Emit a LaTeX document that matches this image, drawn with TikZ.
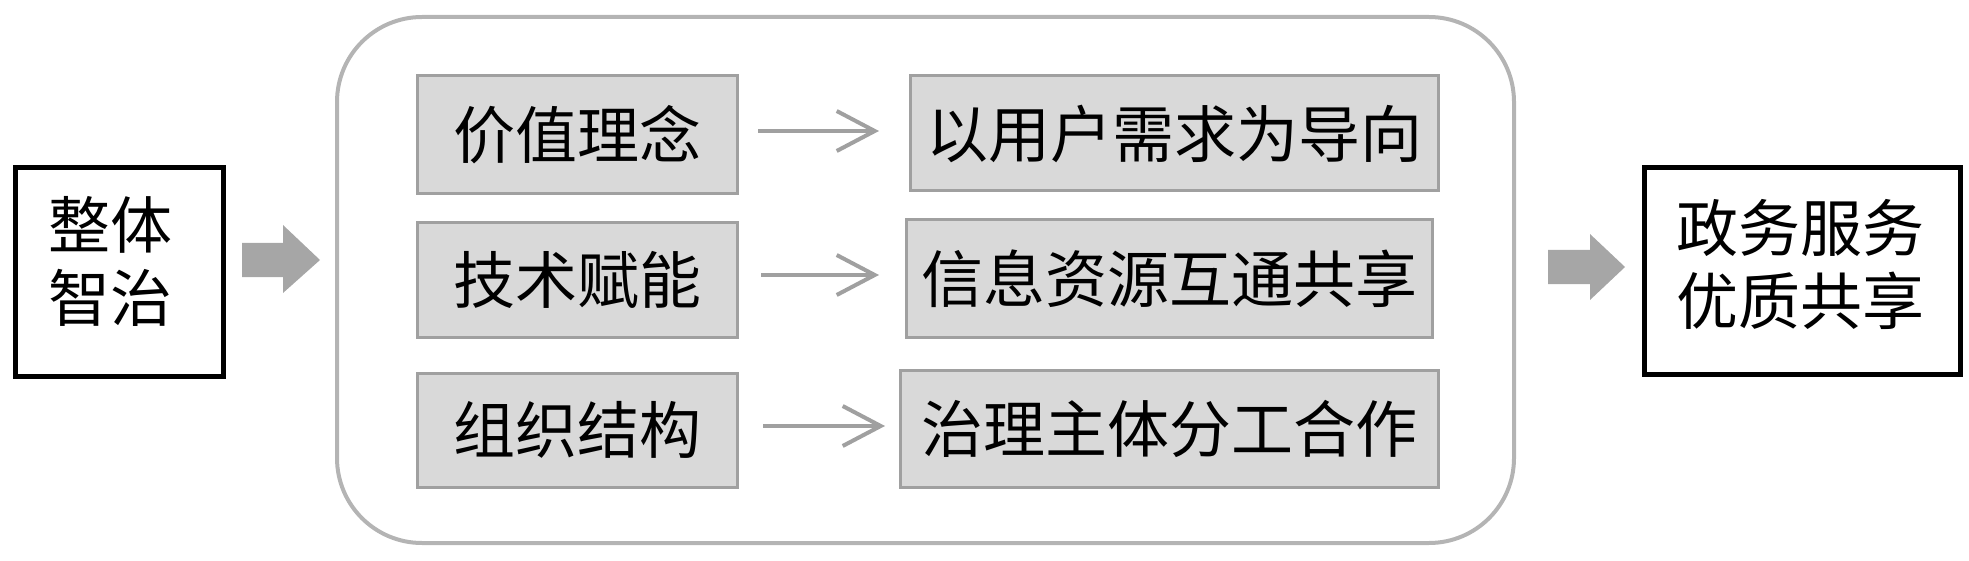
\documentclass[tikz,border=0pt]{standalone}
\usepackage{fontspec}
\setmainfont{Noto Sans CJK SC}
\usetikzlibrary{fit,arrows.meta}
\definecolor{boxfill}{RGB}{217,217,217}
\definecolor{boxline}{RGB}{160,160,160}
\definecolor{contline}{RGB}{180,180,180}
\definecolor{arrowgray}{RGB}{160,160,160}
\definecolor{bigarrow}{RGB}{166,166,166}
\tikzset{
  graybox/.style={draw=boxline, fill=boxfill, line width=1.5pt, inner sep=0pt},
  boxtext/.style={font=\fontsize{31}{36.5}\selectfont, inner sep=0pt},
  outerbox/.style={draw=black, line width=2.5pt, inner sep=0pt},
  container/.style={draw=contline, line width=2pt, inner sep=0pt, rounded corners=42.5pt},
  bigtext/.style={font=\fontsize{31}{36.5}\selectfont, align=center, inner sep=0pt},
  thinarrow/.style={draw=arrowgray, line width=2pt,
    -{Straight Barb[length=19pt, width=20pt, line width=2pt]}},
  blockarrow/.style={fill=bigarrow, draw=none}
}
\begin{document}
\begin{tikzpicture}[x=0.5pt, y=-0.5pt]
\useasboundingbox (0,0) rectangle (1969,561);
% outer boxes
\node[outerbox, fit={(15.5,167.5) (223.5,376.5)}] (A) {};
\node[bigtext] (At) at (110,261) {整体\\智治};
\node[outerbox, fit={(1644,168) (1960,374)}] (Z) {};
\node[bigtext] (Zt) at (1800,264) {政务服务\\优质共享};
% container
\node[container, fit={(337,17) (1514,543)}] (C) {};
% left gray boxes
\node[graybox, fit={(417,76) (737,194)}, label={[boxtext]center:价值理念}] (L1) {};
\node[graybox, fit={(417,223) (737,337)}, label={[boxtext]center:技术赋能}] (L2) {};
\node[graybox, fit={(417,373) (737,487)}, label={[boxtext]center:组织结构}] (L3) {};
% right gray boxes
\node[graybox, fit={(910,76) (1438,191)}, label={[boxtext]center:以用户需求为导向}] (R1) {};
\node[graybox, fit={(906,220) (1432,337)}, label={[boxtext]center:信息资源互通共享}] (R2) {};
\node[graybox, fit={(900,370) (1438,487)}, label={[boxtext]center:治理主体分工合作}] (R3) {};
% thin arrows
\coordinate (a1s) at (758,131); \coordinate (a1e) at (879,131);
\coordinate (a2s) at (761,275); \coordinate (a2e) at (879,275);
\coordinate (a3s) at (763,426); \coordinate (a3e) at (885,426);
\draw[thinarrow] (a1s) -- (a1e);
\draw[thinarrow] (a2s) -- (a2e);
\draw[thinarrow] (a3s) -- (a3e);
% block arrows
\fill[blockarrow] (242,243) -- (283,243) -- (283,225) -- (320,260) -- (283,293) -- (283,277) -- (242,277) -- cycle;
\fill[blockarrow] (1548,250) -- (1590,250) -- (1590,234) -- (1625,267) -- (1590,300) -- (1590,284) -- (1548,284) -- cycle;
\end{tikzpicture}
\end{document}
